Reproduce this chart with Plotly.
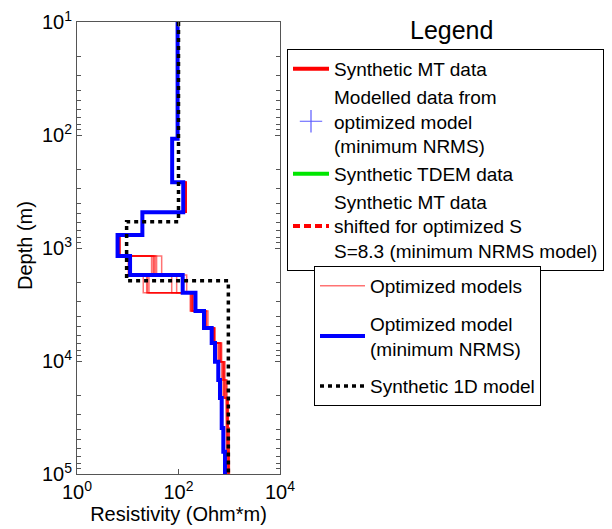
import plotly.graph_objects as go

# ---------------- data ----------------
layer_tops = [10, 108, 262, 483, 767, 1178, 1734, 2488, 3614, 5110, 6930,
              10140, 14720, 21240, 39160, 63500]
depth_bottom = 100000

best_model = [96, 75, 124, 19.4, 6.3, 11.1, 121, 216, 318, 451, 524,
              608, 657, 710, 764, 825]

optimized_models = [
    [96, 75, 141, 19.5, 6.6, 10.2, 145, 195, 381, 524, 710, 825, 903, 960, 1000, 1000],
    [96, 75, 141, 19.2, 6.8, 29.5, 20.2, 170, 304, 479, 600, 710, 753, 863, 880, 900],
    [96, 75, 140, 19.4, 7.0, 31.6, 23.6, 185, 330, 500, 650, 760, 800, 900, 930, 950],
    [96, 75, 141, 19.3, 6.9, 34.7, 26.2, 180, 350, 510, 680, 790, 850, 930, 960, 980],
    [96, 75, 139, 19.5, 6.7, 37.0, 73.5, 190, 320, 490, 620, 740, 780, 880, 900, 920],
    [96, 75, 141, 19.4, 7.1, 46.6, 92.0, 175, 360, 515, 690, 800, 880, 950, 990, 1010],
    [96, 75, 140, 19.3, 6.8, 33.0, 24.5, 188, 340, 505, 660, 770, 820, 910, 940, 960],
]

synthetic_tops = [10, 585, 1945]
synthetic_rho = [100, 9.5, 960]

x_tickvals = [1, 100, 10000]
x_ticktext = ["10<sup>0</sup>", "10<sup>2</sup>", "10<sup>4</sup>"]
y_tickvals = [10, 100, 1000, 10000, 100000]
y_ticktext = ["10<sup>1</sup>", "10<sup>2</sup>", "10<sup>3</sup>", "10<sup>4</sup>", "10<sup>5</sup>"]
y_minor = [m * 10 ** e for e in range(1, 5) for m in range(2, 10)]

legend1_names = [
    "Synthetic MT data",
    "Modelled data from<br>optimized model<br>(minimum NRMS)",
    "Synthetic TDEM data",
    "Synthetic MT data<br>shifted for optimized S<br>S=8.3 (minimum NRMS model)",
]
legend2_names = [
    "Optimized models",
    "Optimized model<br>(minimum NRMS)",
    "Synthetic 1D model",
]


def step_xy(tops, rhos, bottom):
    bots = list(tops[1:]) + [bottom]
    xs, ys = [], []
    for r, t, b in zip(rhos, tops, bots):
        xs += [r, r]
        ys += [t, b]
    return xs, ys


FONT = "Liberation Sans, Arial, Helvetica, sans-serif"
fig = go.Figure()

# legend 1 entries (data belong to another panel)
fig.add_trace(go.Scatter(x=[None], y=[None], mode="lines", name=legend1_names[0],
                         line=dict(color="red", width=4), legend="legend"))
fig.add_trace(go.Scatter(x=[None], y=[None], mode="markers", name=legend1_names[1],
                         marker=dict(symbol="cross-thin", size=16,
                                     line=dict(color="rgb(90,90,255)", width=1.2)),
                         legend="legend"))
fig.add_trace(go.Scatter(x=[None], y=[None], mode="lines", name=legend1_names[2],
                         line=dict(color="rgb(0,230,0)", width=4), legend="legend"))
fig.add_trace(go.Scatter(x=[None], y=[None], mode="lines", name=legend1_names[3],
                         line=dict(color="red", width=4, dash="7px,4px"), legend="legend"))

# optimized models (thin red)
for i, m in enumerate(optimized_models):
    xs, ys = step_xy(layer_tops, m, depth_bottom)
    fig.add_trace(go.Scatter(x=xs, y=ys, mode="lines", name=legend2_names[0],
                             line=dict(color="rgba(255,0,0,0.55)", width=1.5),
                             legendgroup="opt", showlegend=(i == 0), legend="legend2"))

xs, ys = step_xy(layer_tops, best_model, depth_bottom)
fig.add_trace(go.Scatter(x=xs, y=ys, mode="lines", name=legend2_names[1],
                         line=dict(color="rgb(0,0,255)", width=4), legend="legend2"))

xs, ys = step_xy(synthetic_tops, synthetic_rho, depth_bottom)
fig.add_trace(go.Scatter(x=xs, y=ys, mode="lines", name=legend2_names[2],
                         line=dict(color="black", width=3.5, dash="4px,4px"),
                         legend="legend2"))

axis_col = "#555"
fig.update_xaxes(type="log", range=[0, 4], tickvals=x_tickvals, ticktext=x_ticktext,
                 ticks="inside", ticklen=5, tickcolor=axis_col, showline=True,
                 linecolor=axis_col, linewidth=1, mirror="ticks", showgrid=False,
                 zeroline=False, tickfont=dict(size=20, color="black", family=FONT),
                 title=dict(text="Resistivity (Ohm*m)", standoff=4,
                            font=dict(size=20, color="black", family=FONT)))
fig.update_yaxes(type="log", range=[5, 1], tickvals=y_tickvals, ticktext=y_ticktext,
                 ticks="inside", ticklen=5, tickcolor=axis_col, showline=True,
                 linecolor=axis_col, linewidth=1, mirror="ticks", showgrid=False,
                 zeroline=False, tickfont=dict(size=20, color="black", family=FONT),
                 minor=dict(tickmode="array", tickvals=y_minor, ticks="inside",
                            ticklen=4, tickcolor=axis_col, showgrid=False))

W, H = 612, 529
L, R, T, B = 77, 280, 22, 474
fig.update_layout(
    width=W, height=H,
    margin=dict(l=L, r=W - R, t=T, b=H - B, pad=0, autoexpand=False),
    plot_bgcolor="white", paper_bgcolor="white",
    font=dict(family=FONT, size=19, color="black"),
    legend=dict(x=287 / W, y=1 - 49 / H, xref="container", yref="container",
                xanchor="left", yanchor="top", bgcolor="white",
                bordercolor="black", borderwidth=1, itemwidth=36,
                font=dict(size=19, family=FONT, color="black"), valign="middle"),
    legend2=dict(x=314 / W, y=1 - 266 / H, xref="container", yref="container",
                 xanchor="left", yanchor="top", bgcolor="white",
                 bordercolor="black", borderwidth=1, itemwidth=45,
                 font=dict(size=19, family=FONT, color="black"), valign="middle"),
    annotations=[
        dict(text="Legend", x=(451 - L) / (R - L), y=(B - 30) / (B - T),
             xref="paper", yref="paper", showarrow=False,
             xanchor="center", yanchor="middle",
             font=dict(size=25, family=FONT, color="black")),
        dict(text="Depth (m)", x=(25 - L) / (R - L), y=(B - 245) / (B - T),
             xref="paper", yref="paper", showarrow=False, textangle=-90,
             xanchor="center", yanchor="middle",
             font=dict(size=20, family=FONT, color="black")),
    ],
)

fig.write_html("out.html")
